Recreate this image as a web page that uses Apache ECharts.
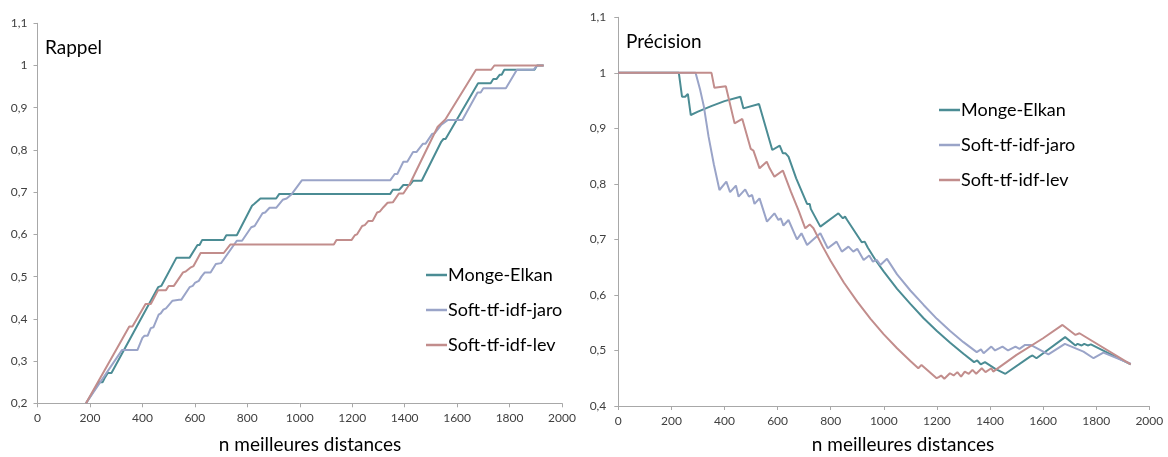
<!DOCTYPE html>
<html>
<head>
<meta charset="utf-8">
<script src="https://cdn.jsdelivr.net/npm/echarts@6/dist/echarts.min.js"></script>
<style>
html,body{margin:0;padding:0;background:#fff;}
#c{width:1168px;height:457px;}
</style>
</head>
<body>
<div id="c"></div>
<script>
// ---- Data (x = n meilleures distances, y = value) ----
const seriesNames = ['Monge-Elkan', 'Soft-tf-idf-jaro', 'Soft-tf-idf-lev'];
const xTicks = [0, 200, 400, 600, 800, 1000, 1200, 1400, 1600, 1800, 2000];

const rappelMonge = [[185,0.2],[235,0.25],[248,0.25],[258,0.262],[268,0.272],[282,0.272],[460,0.475],[472,0.478],[530,0.545],[580,0.545],[610,0.575],[618,0.575],[628,0.587],[710,0.587],[720,0.598],[760,0.598],[818,0.668],[826,0.672],[850,0.685],[910,0.685],[922,0.696],[1345,0.696],[1355,0.706],[1380,0.706],[1395,0.717],[1420,0.717],[1432,0.727],[1465,0.727],[1540,0.82],[1548,0.826],[1556,0.826],[1680,0.958],[1728,0.958],[1738,0.968],[1750,0.968],[1762,0.978],[1770,0.978],[1780,0.99],[1895,0.99],[1905,1.0],[1930,1.0]];
const rappelJaro = [[185,0.2],[322,0.326],[381,0.326],[400,0.355],[408,0.36],[420,0.36],[432,0.378],[442,0.38],[462,0.41],[470,0.413],[480,0.422],[490,0.425],[515,0.443],[540,0.445],[548,0.445],[580,0.475],[592,0.478],[600,0.485],[615,0.49],[625,0.5],[638,0.51],[660,0.51],[680,0.53],[700,0.532],[760,0.585],[780,0.585],[815,0.617],[828,0.62],[858,0.65],[868,0.652],[885,0.663],[910,0.663],[935,0.682],[950,0.685],[970,0.696],[1008,0.728],[1345,0.728],[1362,0.743],[1372,0.743],[1395,0.772],[1410,0.772],[1432,0.795],[1445,0.795],[1470,0.815],[1480,0.815],[1505,0.838],[1515,0.84],[1540,0.86],[1565,0.871],[1620,0.871],[1678,0.936],[1690,0.936],[1700,0.946],[1786,0.946],[1828,0.99],[1892,0.99],[1905,1.0],[1930,1.0]];
const rappelLev = [[185,0.2],[350,0.382],[362,0.382],[412,0.435],[432,0.435],[460,0.468],[490,0.468],[500,0.478],[520,0.478],[555,0.51],[565,0.512],[585,0.522],[595,0.525],[622,0.556],[710,0.556],[735,0.576],[1130,0.576],[1140,0.587],[1198,0.587],[1210,0.598],[1218,0.6],[1238,0.62],[1248,0.622],[1262,0.632],[1278,0.632],[1295,0.652],[1305,0.654],[1320,0.665],[1335,0.675],[1355,0.676],[1378,0.697],[1395,0.697],[1420,0.72],[1526,0.855],[1555,0.872],[1672,0.99],[1730,0.99],[1742,1.0],[1930,1.0]];

const precisionMonge = [[0,1],[228,1],[240,0.957],[252,0.957],[262,0.962],[273,0.924],[300,0.93],[350,0.94],[400,0.949],[460,0.957],[471,0.936],[530,0.944],[580,0.861],[608,0.869],[620,0.855],[630,0.855],[641,0.849],[670,0.81],[711,0.764],[721,0.764],[725,0.755],[761,0.723],[829,0.747],[846,0.738],[854,0.741],[862,0.735],[917,0.695],[928,0.696],[940,0.685],[970,0.662],[1000,0.642],[1050,0.611],[1100,0.584],[1150,0.558],[1200,0.535],[1250,0.514],[1300,0.494],[1340,0.479],[1352,0.482],[1365,0.475],[1381,0.479],[1420,0.467],[1458,0.458],[1551,0.489],[1560,0.491],[1575,0.486],[1683,0.524],[1722,0.509],[1730,0.512],[1745,0.509],[1755,0.512],[1768,0.509],[1780,0.511],[1930,0.475]];
const precisionJaro = [[0,1],[291,1],[308,0.97],[322,0.94],[340,0.885],[360,0.835],[381,0.789],[407,0.804],[421,0.785],[443,0.797],[453,0.777],[478,0.79],[492,0.777],[504,0.78],[513,0.764],[532,0.774],[560,0.732],[588,0.747],[603,0.735],[612,0.738],[622,0.725],[641,0.735],[673,0.70],[690,0.711],[711,0.69],[761,0.711],[789,0.684],[822,0.696],[842,0.678],[867,0.687],[885,0.678],[900,0.683],[924,0.663],[945,0.671],[959,0.66],[973,0.663],[987,0.654],[1012,0.665],[1050,0.637],[1100,0.608],[1150,0.582],[1200,0.557],[1250,0.535],[1300,0.515],[1350,0.497],[1366,0.502],[1376,0.495],[1405,0.507],[1419,0.5],[1447,0.507],[1468,0.5],[1496,0.507],[1511,0.503],[1532,0.51],[1553,0.51],[1620,0.493],[1682,0.512],[1752,0.498],[1790,0.486],[1827,0.496],[1930,0.476]];
const precisionLev = [[0,1],[351,1],[362,0.973],[405,0.976],[438,0.909],[467,0.917],[499,0.863],[509,0.86],[532,0.828],[559,0.84],[570,0.828],[588,0.813],[620,0.824],[650,0.786],[680,0.751],[704,0.72],[721,0.727],[735,0.72],[770,0.687],[800,0.661],[850,0.622],[900,0.588],[950,0.557],[1000,0.529],[1050,0.504],[1100,0.481],[1130,0.468],[1142,0.474],[1199,0.45],[1207,0.452],[1216,0.455],[1228,0.449],[1249,0.459],[1263,0.455],[1277,0.461],[1291,0.453],[1305,0.462],[1320,0.458],[1334,0.465],[1348,0.458],[1369,0.468],[1383,0.461],[1405,0.468],[1412,0.462],[1500,0.492],[1600,0.522],[1673,0.546],[1722,0.528],[1737,0.531],[1930,0.475]];

const colors = ['#4B8C94', '#9AA4C8', '#C28D8C'];

const chart = echarts.init(document.getElementById('c'), null, {renderer: 'canvas'});
const FONT = 'Lato';
const fmt = v => (Math.round(v * 10) / 10).toString().replace('.', ',');

function xAxisCfg(gridIndex) {
  return {
    type: 'value', gridIndex, min: xTicks[0], max: xTicks[xTicks.length - 1], interval: xTicks[1] - xTicks[0],
    axisLine: {show: true, lineStyle: {color: '#A8A8A8', width: 1}},
    axisTick: {show: true, length: 4, lineStyle: {color: '#A8A8A8'}},
    splitLine: {show: false},
    axisLabel: {color: '#404040', fontSize: 12, fontFamily: FONT, margin: 9, formatter: v => String(Math.round(v))}
  };
}
function yAxisCfg(gridIndex, min, margin) {
  return {
    type: 'value', gridIndex, min, max: 1.1, interval: 0.1,
    axisLine: {show: true, lineStyle: {color: '#A8A8A8', width: 1}},
    axisTick: {show: true, length: 4, lineStyle: {color: '#A8A8A8'}},
    splitLine: {show: false},
    axisLabel: {color: '#404040', fontSize: 12, fontFamily: FONT, margin, formatter: fmt}
  };
}
function lineSeries(name, data, idx, axisIdx) {
  return {
    type: 'line', name, data, xAxisIndex: axisIdx, yAxisIndex: axisIdx,
    showSymbol: false, symbol: 'none', smooth: false,
    lineStyle: {width: 2, color: colors[idx]}, itemStyle: {color: colors[idx]},
    emphasis: {disabled: true}
  };
}
function legendCfg(left, top) {
  return {
    orient: 'vertical', left, top, icon: 'rect', itemWidth: 21, itemHeight: 2.5,
    itemGap: 15, data: seriesNames, selectedMode: false,
    textStyle: {fontFamily: FONT, fontSize: 18, color: '#000', lineHeight: 20, padding: [0, 0, 0, -4]}
  };
}

chart.setOption({
  animation: false,
  backgroundColor: '#fff',
  grid: [
    {left: 37.5, top: 23.3, width: 524.5, height: 380},
    {left: 618.3, top: 17.3, width: 531, height: 388.7}
  ],
  xAxis: [xAxisCfg(0), xAxisCfg(1)],
  yAxis: [yAxisCfg(0, 0.2, 10), yAxisCfg(1, 0.4, 12)],
  legend: [legendCfg(421, 260), legendCfg(934, 95)],
  series: [
    lineSeries(seriesNames[0], rappelMonge, 0, 0),
    lineSeries(seriesNames[1], rappelJaro, 1, 0),
    lineSeries(seriesNames[2], rappelLev, 2, 0),
    lineSeries(seriesNames[0], precisionMonge, 0, 1),
    lineSeries(seriesNames[1], precisionJaro, 1, 1),
    lineSeries(seriesNames[2], precisionLev, 2, 1)
  ],
  graphic: [
    {type: 'text', left: 45, top: 38, style: {text: 'Rappel', font: '19px ' + FONT, fill: '#000'}},
    {type: 'text', left: 626, top: 32, style: {text: 'Précision', font: '19px ' + FONT, fill: '#000'}},
    {type: 'text', style: {text: 'n meilleures distances', x: 310, y: 445, font: '19px ' + FONT, fill: '#000', textAlign: 'center', textVerticalAlign: 'middle'}},
    {type: 'text', style: {text: 'n meilleures distances', x: 903, y: 445, font: '19px ' + FONT, fill: '#000', textAlign: 'center', textVerticalAlign: 'middle'}}
  ]
});
</script>
</body>
</html>
